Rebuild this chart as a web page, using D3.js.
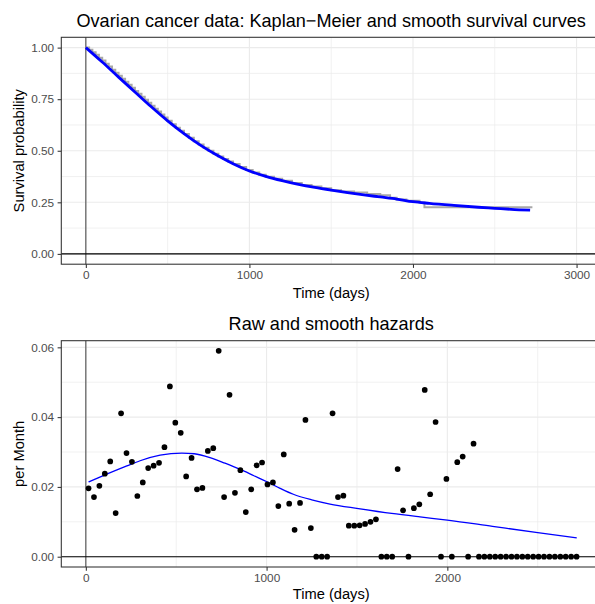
<!DOCTYPE html>
<html>
<head>
<meta charset="utf-8">
<script src="https://cdn.jsdelivr.net/npm/d3@7"></script>
<style>
  body { margin: 0; background: #fff; }
  svg text { font-family: "Liberation Sans", Arial, Helvetica, sans-serif; }
</style>
</head>
<body>
<div id="chart"></div>
<script>
// ---- data ----
// Kaplan-Meier steps (time in days, survival after the drop)
const kmTimes = [0, 20, 40, 60, 80, 100, 120, 140, 160, 180, 200, 220, 240, 260, 280, 300, 320, 340, 360, 380,
  400, 420, 440, 460, 480, 500, 525, 550, 575, 600, 630, 660, 690, 720, 750, 780, 810, 840, 870, 900,
  940, 980, 1020, 1060, 1100, 1150, 1200, 1260, 1320, 1380, 1440, 1500, 1560, 1640, 1720, 1800, 1860, 1900, 1960, 2040,
  2070, 2730];
const kmSurv  = [1.0, 0.99, 0.978, 0.965, 0.951, 0.937, 0.922, 0.908, 0.893, 0.878, 0.863, 0.849, 0.834, 0.82, 0.805, 0.79, 0.776, 0.762, 0.747, 0.733,
  0.718, 0.704, 0.69, 0.676, 0.661, 0.646, 0.628, 0.612, 0.597, 0.581, 0.563, 0.546, 0.53, 0.515, 0.5, 0.486, 0.472, 0.46, 0.448, 0.436,
  0.421, 0.407, 0.395, 0.384, 0.374, 0.364, 0.354, 0.344, 0.334, 0.327, 0.318, 0.309, 0.302, 0.297, 0.29, 0.284, 0.272, 0.264, 0.258, 0.249,
  0.226, 0.226];

// smooth survival curve
const smTimes = [0, 100, 200, 300, 400, 500, 600, 700, 800, 900, 1000, 1100, 1200, 1300, 1400, 1500, 1600, 1700, 1800, 1900, 2000, 2100, 2250, 2400, 2500, 2600, 2716];
const smSurv  = [1.0, 0.93, 0.857, 0.785, 0.713, 0.645, 0.583, 0.527, 0.479, 0.437, 0.402, 0.376, 0.355, 0.337, 0.322, 0.309, 0.297, 0.286, 0.276, 0.266, 0.253, 0.245, 0.235, 0.226, 0.221, 0.216, 0.212];

// raw monthly hazards
const hazTimes = [15, 45, 75, 105, 135, 165, 195, 225, 255, 285, 315, 345, 375, 405, 435, 465, 495, 525, 555, 585,
  615, 645, 675, 705, 735, 765, 795, 825, 855, 885, 915, 945, 975, 1005, 1035, 1065, 1095, 1125, 1155, 1185,
  1215, 1245, 1275, 1305, 1335, 1365, 1395, 1425, 1455, 1485, 1515, 1545, 1575, 1605, 1635, 1665, 1695, 1725, 1755, 1785,
  1815, 1845, 1875, 1905, 1935, 1965, 1995, 2025, 2055, 2085, 2115, 2145, 2175, 2205, 2235, 2265, 2295, 2325, 2355, 2385,
  2415, 2445, 2475, 2505, 2535, 2565, 2595, 2625, 2655, 2685, 2715];
const hazRaw = [0.0196, 0.0171, 0.0203, 0.0238, 0.0273, 0.0125, 0.0411, 0.0297, 0.0272, 0.0174,
  0.0213, 0.0254, 0.0261, 0.0269, 0.0314, 0.0488, 0.0384, 0.0355, 0.0230, 0.0283,
  0.0193, 0.0197, 0.0303, 0.0311, 0.0590, 0.0171, 0.0464, 0.0183, 0.0248, 0.0128,
  0.0193, 0.0262, 0.0270, 0.0207, 0.0213, 0.0145, 0.0293, 0.0152, 0.0077, 0.0154,
  0.0392, 0.0082, 0, 0, 0, 0.0411, 0.0171, 0.0175, 0.0089, 0.0089,
  0.0090, 0.0094, 0.0100, 0.0107, 0, 0, 0, 0.0251, 0.0133, 0,
  0.0139, 0.0150, 0.0478, 0.0179, 0.0386, 0, 0.0223, 0, 0.0271, 0.0287,
  0, 0.0324, 0, 0, 0, 0, 0, 0, 0, 0,
  0, 0, 0, 0, 0, 0, 0, 0, 0, 0, 0];

// smooth hazard
const shTimes = [15, 100, 227, 300, 411, 531, 600, 687, 770, 855, 930, 1005, 1075, 1148, 1250, 1351, 1508, 1692, 1849, 2000, 2250, 2500, 2716];
const shHaz   = [0.0214, 0.0233, 0.0260, 0.0275, 0.0291, 0.0297, 0.0295, 0.0284, 0.0268, 0.0250, 0.0232, 0.0214, 0.0196, 0.0179, 0.0163, 0.0151, 0.0138, 0.0124, 0.0114, 0.0105, 0.0087, 0.0069, 0.0054];

const xTicksTop = [0, 1000, 2000, 3000];
const xMinorTop = [500, 1500, 2500];
const yTicksTop = [0, 0.25, 0.5, 0.75, 1.0];
const yMinorTop = [0.125, 0.375, 0.625, 0.875];
const xTicksBot = [0, 1000, 2000];
const xMinorBot = [500, 1500, 2500];
const yTicksBot = [0, 0.02, 0.04, 0.06];
const yMinorBot = [0.01, 0.03, 0.05];

// ---- chart ----
const W = 595, H = 604;
const svg = d3.select('#chart').append('svg')
  .attr('width', W).attr('height', H);

const gridCol = '#EBEBEB';

// draws panel background, grid, axes and titles; returns scales + group
function panel(opt) {
  const x = d3.scaleLinear().domain(opt.xDomain).range([opt.left, opt.right]);
  const y = d3.scaleLinear().domain(opt.yDomain).range([opt.bottom, opt.top]);
  const g = svg.append('g');

  // minor grid
  g.selectAll('.xmin').data(opt.xMinor).enter().append('line')
    .attr('x1', d => x(d)).attr('x2', d => x(d))
    .attr('y1', opt.top).attr('y2', opt.bottom)
    .attr('stroke', gridCol).attr('stroke-width', 0.7);
  g.selectAll('.ymin').data(opt.yMinor).enter().append('line')
    .attr('y1', d => y(d)).attr('y2', d => y(d))
    .attr('x1', opt.left).attr('x2', opt.right)
    .attr('stroke', gridCol).attr('stroke-width', 0.7);
  // major grid
  g.selectAll('.xmaj').data(opt.xTicks).enter().append('line')
    .attr('x1', d => x(d)).attr('x2', d => x(d))
    .attr('y1', opt.top).attr('y2', opt.bottom)
    .attr('stroke', gridCol).attr('stroke-width', 1.1);
  g.selectAll('.ymaj').data(opt.yTicks).enter().append('line')
    .attr('y1', d => y(d)).attr('y2', d => y(d))
    .attr('x1', opt.left).attr('x2', opt.right)
    .attr('stroke', gridCol).attr('stroke-width', 1.1);

  // axes
  const xAxis = g.append('g')
    .attr('transform', 'translate(0,' + opt.bottom + ')')
    .call(d3.axisBottom(x).tickValues(opt.xTicks).tickFormat(d3.format('d')).tickSize(3.7).tickPadding(3));
  const yAxis = g.append('g')
    .attr('transform', 'translate(' + opt.left + ',0)')
    .call(d3.axisLeft(y).tickValues(opt.yTicks).tickFormat(d3.format('.2f')).tickSize(3.7).tickPadding(3.5));
  [xAxis, yAxis].forEach(a => {
    a.select('.domain').remove();
    a.selectAll('.tick line').attr('stroke', '#333333').attr('stroke-width', 1.07);
    a.selectAll('.tick text').attr('fill', '#4D4D4D')
      .style('font-size', '11.8px');
  });

  const cx = (opt.left + opt.right) / 2;
  svg.append('text')
    .attr('x', cx).attr('y', opt.titleY)
    .attr('text-anchor', 'middle')
    .style('font-size', '18.1px').attr('fill', '#000')
    .text(opt.title);
  svg.append('text')
    .attr('x', cx).attr('y', opt.xLabY)
    .attr('text-anchor', 'middle')
    .style('font-size', '14.7px').attr('fill', '#000')
    .text('Time (days)');
  svg.append('text')
    .attr('transform', 'translate(23.5,' + ((opt.top + opt.bottom) / 2) + ') rotate(-90)')
    .attr('text-anchor', 'middle')
    .style('font-size', '14.7px').attr('fill', '#000')
    .text(opt.yLab);

  return { x, y, g };
}

function border(opt) {
  svg.append('rect')
    .attr('x', opt.left).attr('y', opt.top)
    .attr('width', opt.right - opt.left).attr('height', opt.bottom - opt.top)
    .attr('fill', 'none').attr('stroke', '#333333').attr('stroke-width', 1.07);
}

// top panel: survival
const topOpt = {
  left: 61.3, right: 601.1, top: 37.3, bottom: 264.2,
  xDomain: [-150, 3150], yDomain: [-0.05, 1.05],
  xTicks: xTicksTop, xMinor: xMinorTop, yTicks: yTicksTop, yMinor: yMinorTop,
  title: 'Ovarian cancer data: Kaplan\u2212Meier and smooth survival curves',
  titleY: 27.3, xLabY: 298, yLab: 'Survival probability'
};
const p1 = panel(topOpt);

p1.g.append('line')
  .attr('x1', p1.x(0)).attr('x2', p1.x(0))
  .attr('y1', topOpt.top).attr('y2', topOpt.bottom)
  .attr('stroke', '#4D4D4D').attr('stroke-width', 1.1);
p1.g.append('line')
  .attr('y1', p1.y(0)).attr('y2', p1.y(0))
  .attr('x1', topOpt.left).attr('x2', topOpt.right)
  .attr('stroke', '#000').attr('stroke-width', 1.1);

const kmData = kmTimes.map((t, i) => [t, kmSurv[i]]);
p1.g.append('path')
  .datum(kmData)
  .attr('d', d3.line().curve(d3.curveStepAfter).x(d => p1.x(d[0])).y(d => p1.y(d[1])))
  .attr('fill', 'none').attr('stroke', '#A8A8A8').attr('stroke-width', 2.0);

const smData = smTimes.map((t, i) => [t, smSurv[i]]);
p1.g.append('path')
  .datum(smData)
  .attr('d', d3.line().curve(d3.curveMonotoneX).x(d => p1.x(d[0])).y(d => p1.y(d[1])))
  .attr('fill', 'none').attr('stroke', '#0000FF').attr('stroke-width', 2.8);
border(topOpt);

// bottom panel: hazards
const botOpt = {
  left: 61.3, right: 601.1, top: 340.7, bottom: 567,
  xDomain: [-135.75, 2850.75], yDomain: [-0.00295, 0.0619],
  xTicks: xTicksBot, xMinor: xMinorBot, yTicks: yTicksBot, yMinor: yMinorBot,
  title: 'Raw and smooth hazards',
  titleY: 330, xLabY: 599, yLab: 'per Month'
};
const p2 = panel(botOpt);

p2.g.append('line')
  .attr('x1', p2.x(0)).attr('x2', p2.x(0))
  .attr('y1', botOpt.top).attr('y2', botOpt.bottom)
  .attr('stroke', '#4D4D4D').attr('stroke-width', 1.1);
p2.g.append('line')
  .attr('y1', p2.y(0)).attr('y2', p2.y(0))
  .attr('x1', botOpt.left).attr('x2', botOpt.right)
  .attr('stroke', '#000').attr('stroke-width', 1.1);

const shData = shTimes.map((t, i) => [t, shHaz[i]]);
p2.g.append('path')
  .datum(shData)
  .attr('d', d3.line().curve(d3.curveMonotoneX).x(d => p2.x(d[0])).y(d => p2.y(d[1])))
  .attr('fill', 'none').attr('stroke', '#0000FF').attr('stroke-width', 1.3);

p2.g.selectAll('.pt')
  .data(hazTimes.map((t, i) => [t, hazRaw[i]]))
  .enter().append('circle')
  .attr('cx', d => p2.x(d[0]))
  .attr('cy', d => p2.y(d[1]))
  .attr('r', 2.85)
  .attr('fill', '#000');
border(botOpt);
</script>
</body>
</html>
